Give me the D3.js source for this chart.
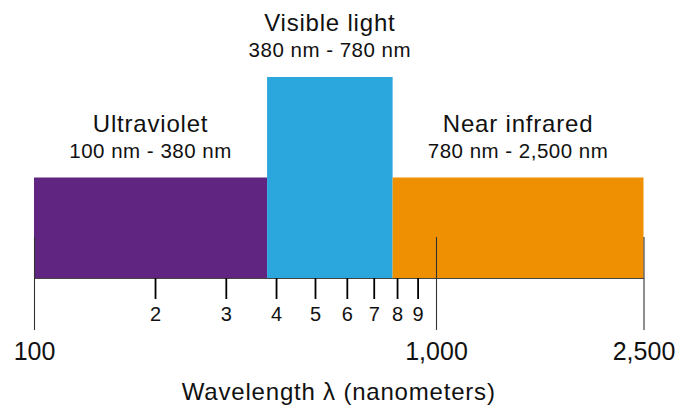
<!DOCTYPE html>
<html>
<head>
<meta charset="utf-8">
<script src="https://cdn.jsdelivr.net/npm/d3@7"></script>
<style>
  html, body { margin: 0; padding: 0; background: #fff; }
  svg { display: block; font-family: "Liberation Sans", Arial, Helvetica, sans-serif; }
</style>
</head>
<body>
<div id="chart"></div>
<script>
// Spectrum regions (wavelength in nm)
const regionNames = ["Ultraviolet", "Visible light", "Near infrared"];
const regionRanges = ["100 nm - 380 nm", "380 nm - 780 nm", "780 nm - 2,500 nm"];
const regionStart = [100, 380, 780];
const regionEnd = [380, 780, 2500];
const regionHeight = [1, 2, 1];
const regionColors = ["#5f2580", "#2ca7dd", "#ef8f02"];

// Axis ticks
const minorTicks = [200, 300, 400, 500, 600, 700, 800, 900];
const minorLabels = ["2", "3", "4", "5", "6", "7", "8", "9"];
const majorTicks = [100, 1000, 2500];
const majorLabels = ["100", "1,000", "2,500"];

const width = 690;
const height = 405;
const baseY = 278;

const svg = d3.select("#chart")
  .append("svg")
  .attr("width", width)
  .attr("height", height);

// log scale, stretched a bit past 1,000 like the original diagram
const x = d3.scaleLog()
  .domain([100, 1000, 2500])
  .range([34, 436, 643.5]);

const y = d3.scaleLinear()
  .domain([0, 2])
  .range([baseY, 77]);

const regions = regionNames.map((name, i) => ({
  name,
  range: regionRanges[i],
  start: regionStart[i],
  end: regionEnd[i],
  h: regionHeight[i],
  color: regionColors[i]
}));

// Bars
svg.selectAll(".region")
  .data(regions)
  .enter()
  .append("rect")
  .attr("class", "region")
  .attr("x", d => x(d.start))
  .attr("y", d => y(d.h))
  .attr("width", d => x(d.end) - x(d.start))
  .attr("height", d => y(0) - y(d.h))
  .attr("fill", d => d.color);

// Region titles
svg.selectAll(".region-name")
  .data(regions)
  .enter()
  .append("text")
  .attr("class", "region-name")
  .attr("x", d => (x(d.start) + x(d.end)) / 2)
  .attr("y", d => y(d.h) - 46)
  .attr("text-anchor", "middle")
  .attr("font-size", 24)
  .attr("letter-spacing", 0.8)
  .attr("fill", "#111")
  .text(d => d.name);

svg.selectAll(".region-range")
  .data(regions)
  .enter()
  .append("text")
  .attr("class", "region-range")
  .attr("x", d => (x(d.start) + x(d.end)) / 2)
  .attr("y", d => y(d.h) - 20)
  .attr("text-anchor", "middle")
  .attr("font-size", 20.5)
  .attr("letter-spacing", 0.5)
  .attr("fill", "#111")
  .text(d => d.range);

// Minor axis (baseline + short ticks)
const minorAxis = d3.axisBottom(x)
  .tickValues(minorTicks)
  .tickFormat((d, i) => minorLabels[i])
  .tickSize(21)
  .tickSizeOuter(0);

const gMinor = svg.append("g")
  .attr("transform", `translate(0,${baseY})`)
  .call(minorAxis);

gMinor.select(".domain")
  .attr("stroke", "#444")
  .attr("stroke-width", 1.2);

gMinor.selectAll(".tick line")
  .attr("stroke", "#000")
  .attr("stroke-width", 1.8);

gMinor.selectAll(".tick text")
  .attr("y", 42.5)
  .attr("dy", null)
  .attr("font-size", 20)
  .attr("font-family", null)
  .attr("fill", "#111");

// Major ticks
const majorAxis = d3.axisBottom(x)
  .tickValues(majorTicks)
  .tickFormat((d, i) => majorLabels[i])
  .tickSize(93)
  .tickSizeOuter(0);

const gMajor = svg.append("g")
  .attr("transform", "translate(0,237)")
  .call(majorAxis);

gMajor.select(".domain").remove();

gMajor.selectAll(".tick line")
  .attr("stroke", "#333")
  .attr("stroke-width", 1.1);

gMajor.selectAll(".tick text")
  .attr("y", 122.5)
  .attr("dy", null)
  .attr("font-size", 25)
  .attr("font-family", null)
  .attr("fill", "#111");

// Axis title
svg.append("text")
  .attr("x", (x.range()[0] + x.range()[2]) / 2)
  .attr("y", 400)
  .attr("text-anchor", "middle")
  .attr("font-size", 24)
  .attr("letter-spacing", 0.8)
  .attr("fill", "#111")
  .text("Wavelength \u03bb (nanometers)");
</script>
</body>
</html>
